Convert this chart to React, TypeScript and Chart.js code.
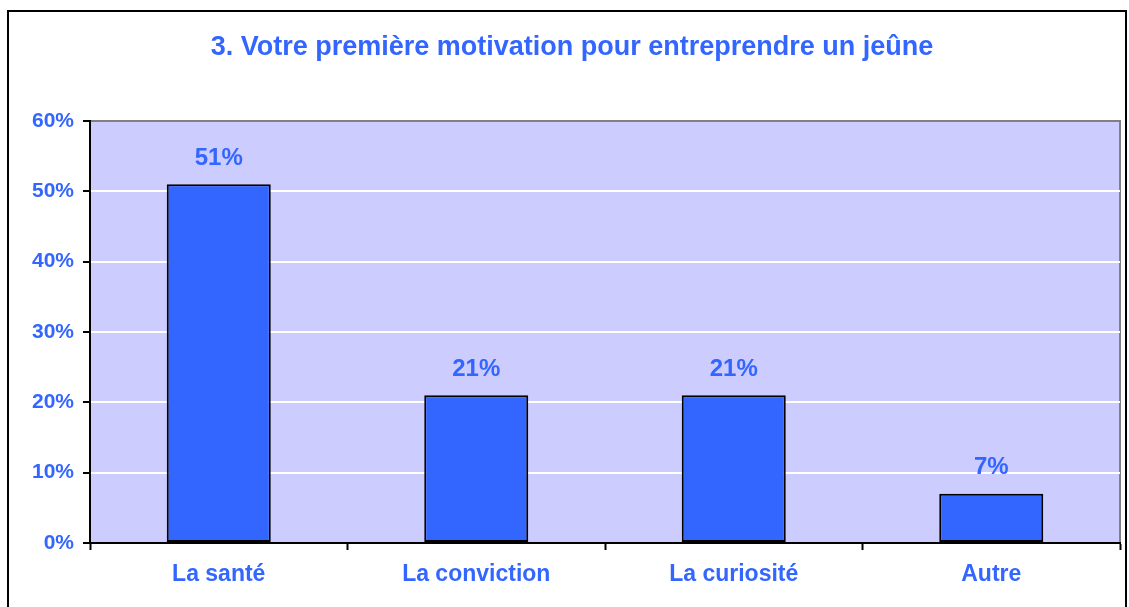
import React, { useEffect, useRef } from "react";
import { Chart, registerables } from "chart.js";

Chart.register(...registerables);

const TITLE = "3. Votre première motivation pour entreprendre un jeûne";
const categories = ["La santé", "La conviction", "La curiosité", "Autre"];
const values = [51, 21, 21, 7];
const yTicks = [0, 10, 20, 30, 40, 50, 60];

const BLUE = "#3366FF";
const FONT = "'Liberation Sans', Arial, sans-serif";

export default function App() {
  const ref = useRef<HTMLCanvasElement | null>(null);

  useEffect(() => {
    if (!ref.current) return;
    document.body.style.margin = "0";
    document.body.style.overflow = "hidden";

    const framePlugin = {
      id: "framePlugin",
      beforeDraw(chart: any) {
        const { ctx, chartArea: a } = chart;
        ctx.save();
        ctx.fillStyle = "#CCCCFF";
        ctx.fillRect(a.left, a.top, a.right - a.left, a.bottom - a.top);
        ctx.strokeStyle = "#808080";
        ctx.lineWidth = 2;
        ctx.beginPath();
        ctx.moveTo(a.left, a.top);
        ctx.lineTo(a.right, a.top);
        ctx.lineTo(a.right, a.bottom);
        ctx.stroke();
        ctx.strokeStyle = "#000";
        ctx.lineWidth = 2;
        ctx.strokeRect(8, 11, 1118, 700);
        // title
        ctx.fillStyle = BLUE;
        ctx.font = `bold 27px ${FONT}`;
        ctx.textAlign = "center";
        ctx.textBaseline = "alphabetic";
        ctx.fillText(TITLE, 572, 55);
        ctx.restore();
      },
    };

    const labelPlugin = {
      id: "labelPlugin",
      afterDatasetsDraw(chart: any) {
        const { ctx } = chart;
        const meta = chart.getDatasetMeta(0);
        ctx.save();
        ctx.fillStyle = BLUE;
        ctx.font = `bold 24px ${FONT}`;
        ctx.textAlign = "center";
        ctx.textBaseline = "middle";
        meta.data.forEach((el: any, i: number) => {
          ctx.fillText(`${values[i]}%`, el.x, el.y - 26);
        });
        ctx.restore();
      },
    };

    const chart = new Chart(ref.current, {
      type: "bar",
      data: {
        labels: categories,
        datasets: [
          {
            data: values,
            backgroundColor: BLUE,
            borderColor: "#000",
            borderWidth: 2,
            borderSkipped: false,
            categoryPercentage: 1,
            barPercentage: 0.404,
          },
        ],
      },
      options: {
        responsive: false,
        animation: false,
        layout: { padding: { left: 0, right: 9, top: 121, bottom: 0 } },
        plugins: {
          legend: { display: false },
          tooltip: { enabled: false },
          title: { display: false },
        },
        scales: {
          y: {
            min: 0,
            max: 60,
            afterBuildTicks: (s: any) => {
              s.ticks = yTicks.map((v) => ({ value: v }));
            },
            afterFit: (s: any) => {
              s.width = 90;
            },
            ticks: {
              color: BLUE,
              font: { family: FONT, size: 21, weight: "bold" },
              padding: 9,
              callback: (v: any) => `${v}%`,
            },
            grid: {
              color: (c: any) =>
                c.tick && c.tick.value === 60 ? "#808080" : "#FFFFFF",
              lineWidth: 2,
              tickColor: "#000",
              tickLength: 7,
              tickWidth: 2,
            },
            border: { color: "#000", width: 2 },
          },
          x: {
            afterFit: (s: any) => {
              s.height = 64;
            },
            ticks: {
              color: BLUE,
              font: { family: FONT, size: 23, weight: "bold" },
              padding: 11,
              maxRotation: 0,
            },
            grid: {
              offset: true,
              drawOnChartArea: false,
              tickColor: "#000",
              tickLength: 7,
              tickWidth: 2,
            },
            border: { color: "#000", width: 2 },
          },
        },
      },
      plugins: [framePlugin, labelPlugin],
    } as any);

    return () => chart.destroy();
  }, []);

  return (
    <div style={{ position: "fixed", left: 0, top: 0, width: 1129, height: 607, background: "#fff" }}>
      <canvas ref={ref} width={1129} height={607} style={{ display: "block" }} />
    </div>
  );
}
